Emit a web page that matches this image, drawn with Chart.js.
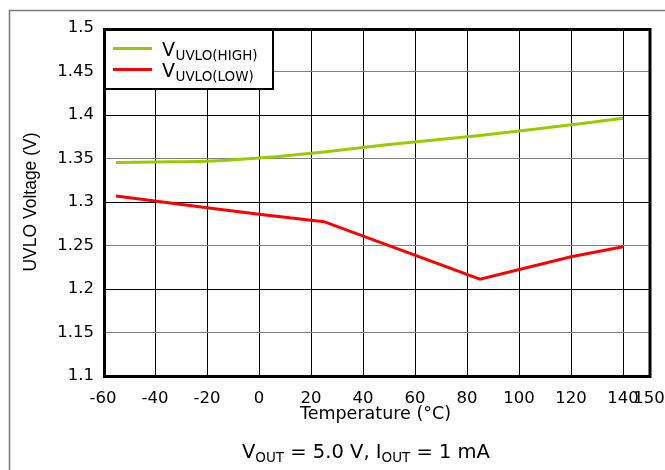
<!DOCTYPE html>
<html>
<head>
<meta charset="utf-8">
<script src="https://cdn.jsdelivr.net/npm/chart.js@4/dist/chart.umd.min.js"></script>
<style>
html,body{margin:0;padding:0;background:#fff;}
canvas{display:block;}
</style>
</head>
<body>
<canvas id="c" width="665" height="470"></canvas>
<script>
// ---- data ----
const tempsHigh = [-55, -40, -20, 0, 25, 50, 85, 125, 140];
const vHigh     = [1.3455, 1.346, 1.3468, 1.3505, 1.3575, 1.366, 1.3765, 1.3905, 1.3962];
const tempsLow  = [-55, -40, -20, 0, 25, 85, 120, 140];
const vLow      = [1.307, 1.3012, 1.2935, 1.2858, 1.2774, 1.2112, 1.237, 1.2486];
const xTicks = [-60, -40, -20, 0, 20, 40, 60, 80, 100, 120, 140, 150];
const yTicks = [1.1, 1.15, 1.2, 1.25, 1.3, 1.35, 1.4, 1.45, 1.5];
const seriesNames = [['V', 'UVLO(HIGH)'], ['V', 'UVLO(LOW)']];
const xTitle = 'Temperature (\u00B0C)';
const yTitle = 'UVLO Voltage (V)';
const caption = [['V', false], ['OUT', true], [' = 5.0 V, I', false], ['OUT', true], [' = 1 mA', false]];
const colors = ['#99cc00', '#ff0000'];

const FONT = "'DejaVu Sans'";

const decor = {
  id: 'decor',
  beforeDraw(chart) {
    const ctx = chart.ctx;
    ctx.save();
    ctx.strokeStyle = '#7a7a7a';
    ctx.lineWidth = 1.5;
    ctx.beginPath();
    ctx.moveTo(9.5, 470); ctx.lineTo(9.5, 10.5); ctx.lineTo(665, 10.5);
    ctx.stroke();
    ctx.restore();
  },
  afterDraw(chart) {
    const ctx = chart.ctx;
    const a = chart.chartArea;
    ctx.save();
    // legend box
    ctx.fillStyle = '#fff';
    ctx.fillRect(a.left, a.top, 170, 61);
    ctx.strokeStyle = '#000';
    ctx.lineWidth = 2;
    ctx.strokeRect(a.left + 1, a.top + 1, 169, 60);
    const rows = [48.5, 69.5];
    seriesNames.forEach((n, i) => {
      ctx.strokeStyle = colors[i];
      ctx.lineWidth = 3;
      ctx.beginPath();
      ctx.moveTo(113, rows[i]); ctx.lineTo(152, rows[i]);
      ctx.stroke();
      ctx.fillStyle = '#000';
      ctx.textBaseline = 'alphabetic';
      ctx.textAlign = 'left';
      ctx.font = '19px ' + FONT;
      ctx.fillText(n[0], 162, rows[i] + 7.5);
      const w = ctx.measureText(n[0]).width;
      ctx.font = '13.5px ' + FONT;
      ctx.fillText(n[1], 162 + w + 0.5, rows[i] + 11);
    });
    // plot frame
    ctx.strokeStyle = '#000';
    ctx.lineWidth = 3;
    ctx.strokeRect(a.left + 1.5, a.top + 1.5, a.right - a.left - 0.5, a.bottom - a.top - 1);
    // axis titles
    ctx.fillStyle = '#000';
    ctx.font = '17.5px ' + FONT;
    ctx.textAlign = 'center';
    ctx.textBaseline = 'alphabetic';
    ctx.fillText(xTitle, 375.5, 419);
    ctx.save();
    ctx.translate(36, 202);
    ctx.rotate(-Math.PI / 2);
    ctx.font = "17.5px 'Liberation Sans'";
    ctx.fillText(yTitle, 0, 0);
    ctx.restore();
    // caption
    ctx.textAlign = 'left';
    let x = 242;
    caption.forEach(p => {
      ctx.font = (p[1] ? '13.5px ' : '19.5px ') + FONT;
      ctx.fillText(p[0], x, p[1] ? 461.5 : 458);
      x += ctx.measureText(p[0]).width;
    });
    ctx.restore();
  }
};

new Chart(document.getElementById('c'), {
  type: 'line',
  data: {
    datasets: [
      { label: 'VUVLO(HIGH)', data: tempsHigh.map((t, i) => ({x: t, y: vHigh[i]})),
        borderColor: colors[0], borderWidth: 3, pointRadius: 0, tension: 0.3, fill: false },
      { label: 'VUVLO(LOW)', data: tempsLow.map((t, i) => ({x: t, y: vLow[i]})),
        borderColor: colors[1], borderWidth: 3, pointRadius: 0, tension: 0, fill: false }
    ]
  },
  options: {
    responsive: false,
    animation: false,
    devicePixelRatio: 1,
    layout: { padding: { left: 0, top: 28, right: 16, bottom: 0 } },
    plugins: { legend: { display: false }, tooltip: { enabled: false }, title: { display: false } },
    scales: {
      x: {
        type: 'linear', min: -60, max: 150,
        afterBuildTicks: s => { s.ticks = xTicks.map(v => ({value: v})); },
        afterFit: s => { s.height = 94; s.paddingLeft = 0; s.paddingRight = 0; },
        grid: { color: '#000', lineWidth: 1, drawTicks: false },
        border: { display: false },
        ticks: { color: '#000', font: { family: 'DejaVu Sans', size: 16.5 }, padding: 13,
                 autoSkip: false, maxRotation: 0, callback: v => String(v) }
      },
      y: {
        type: 'linear', min: 1.1, max: 1.5,
        afterBuildTicks: s => { s.ticks = yTicks.map(v => ({value: v})); },
        afterFit: s => { s.width = 103; s.paddingTop = 0; s.paddingBottom = 0; },
        grid: { color: c => (c.index % 2 === 1 ? '#808080' : '#000'), lineWidth: 1, drawTicks: false },
        border: { display: false },
        ticks: { color: '#000', font: { family: 'DejaVu Sans', size: 16.5 }, padding: 9,
                 autoSkip: false, callback: v => String(v) }
      }
    }
  },
  plugins: [decor]
});
</script>
</body>
</html>
